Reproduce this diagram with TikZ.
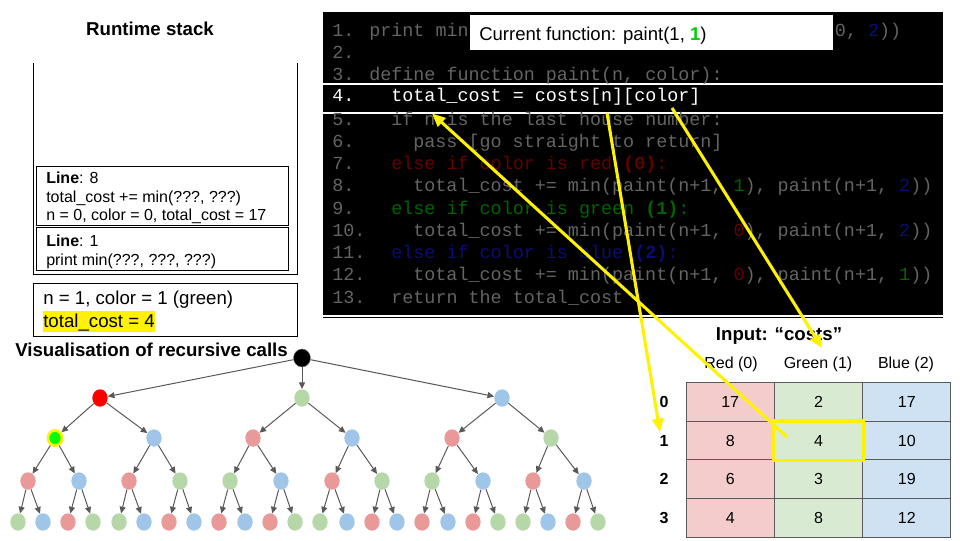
\documentclass[tikz,border=0pt]{standalone}
\usepackage{fontspec}
\setmainfont{Liberation Sans}
\setmonofont{Liberation Mono}
\usetikzlibrary{arrows.meta,shapes.geometric}

% palette
\definecolor{codegray}{HTML}{646464}
\definecolor{codered}{HTML}{640000}
\definecolor{codegreen}{HTML}{006400}
\definecolor{codeblue}{HTML}{0C0C78}
\definecolor{brightgreen}{HTML}{00D000}
\definecolor{cellred}{HTML}{F4CCCC}
\definecolor{cellgreen}{HTML}{D9EAD3}
\definecolor{cellblue}{HTML}{CFE2F3}
\definecolor{gridgray}{HTML}{5A5A5A}
\definecolor{nodered}{HTML}{EA9999}
\definecolor{nodegreen}{HTML}{B6D7A8}
\definecolor{nodeblue}{HTML}{9FC5E8}
\definecolor{edgegray}{HTML}{595959}

\newcommand\cdfont{\fontsize{13.8}{16}\selectfont\ttfamily\frenchspacing}
\newcommand\R[1]{\textcolor{codered}{#1}}
\newcommand\G[1]{\textcolor{codegreen}{#1}}
\newcommand\B[1]{\textcolor{codeblue}{#1}}

\tikzset{
  codetxt/.style={anchor=base west, inner sep=0pt, font=\cdfont, text=codegray},
  stacktxt/.style={anchor=base west, inner sep=0pt, font=\fontsize{12}{14}\selectfont},
  heading/.style={inner sep=0pt, font=\fontsize{14}{16}\selectfont\bfseries},
  frame/.style={draw=black, line width=0.6pt},
  cell/.style={draw=gridgray, line width=0.75pt, minimum width=66.2pt, minimum height=28.9pt,
               inner sep=0pt, font=\fontsize{12}{14}\selectfont},
  collabel/.style={inner sep=0pt, font=\fontsize{12}{14}\selectfont},
  rowlabel/.style={inner sep=0pt, font=\fontsize{12}{14}\selectfont\bfseries},
  callnode/.style={ellipse, minimum width=11.5pt, minimum height=13pt, inner sep=0pt},
  rn/.style={callnode, fill=nodered},
  gn/.style={callnode, fill=nodegreen},
  bn/.style={callnode, fill=nodeblue},
  calledge/.style={draw=edgegray, line width=0.75pt, -{Triangle[length=5pt,width=4.5pt]}},
  pointer/.style={draw=yellow, line width=2.3pt, -{Triangle[length=10pt,width=8.5pt]}},
}

\begin{document}
\begin{tikzpicture}[x=0.75pt,y=-0.75pt]
\useasboundingbox (0,0) rectangle (960,540);

% ---------- runtime stack ----------
\node[heading] (stacktitle) at (150,29) {Runtime stack};
\draw[line width=0.75pt] (33.5,63) -- (33.5,274.5) -- (297.5,274.5) -- (297.5,63);
\draw[frame] (36,166) rectangle (288,225);
\draw[frame] (36,227) rectangle (288,270);
\node[stacktxt] (f1a) at (46,183) {\textbf{Line}: 8};
\node[stacktxt] (f1b) at (46,202) {total\_cost += min(???, ???)};
\node[stacktxt] (f1c) at (46,220.5) {n = 0, color = 0, total\_cost = 17};
\node[stacktxt] (f2a) at (46,246) {\textbf{Line}: 1};
\node[stacktxt] (f2b) at (46,265) {print min(???, ???, ???)};

\draw[frame] (33.5,283.5) rectangle (297.5,336);
\fill[yellow] (43,311) rectangle (155,332);
\node[stacktxt, font=\fontsize{14}{16}\selectfont] (cur1) at (43,304) {n = 1, color = 1 (green)};
\node[stacktxt, font=\fontsize{14}{16}\selectfont] (cur2) at (43,327.5) {total\_cost = 4};

% ---------- code window ----------
\fill[black] (323,12) rectangle (943,315);
\draw[black, line width=0.8pt] (323,317.5) -- (943,317.5);
\fill[black] (323,84) rectangle (943,113);
\draw[white, line width=1.2pt] (323,84) -- (943,84);
\draw[white, line width=1.2pt] (323,113) -- (943,113);

\foreach \n/\yy in {1/36,2/58.25,3/80.5,5/125,6/147.25,7/169.5,8/191.75,9/214,10/236.25,11/258.5,12/280.75,13/303}
  \node[codetxt] (ln\n) at (332,\yy) {\n.};
\node[codetxt, text=white] (ln4) at (332,101) {4.};

% line 1 is partly covered by the current-function label
\node[codetxt] (c1a) at (369,36) {print min};
\node[codetxt] (c1b) at (834.7,36) {0, \B{2}))};
\node[codetxt] (c3) at (369,80.5) {define function paint(n, color):};
\node[codetxt, text=white] (c4) at (391.1,101) {total\_cost = costs[n][color]};
\node[codetxt] (c5) at (391.1,125) {if n is the last house number:};
\node[codetxt] (c6) at (413.1,147.25) {pass [go straight to return]};
\node[codetxt, text=codered] (c7) at (391.1,169.5) {else if color is red \textbf{(0)}:};
\node[codetxt] (c8) at (413.1,191.75) {total\_cost += min(paint(n+1, \G{1}), paint(n+1, \B{2}))};
\node[codetxt, text=codegreen] (c9) at (391.1,214) {else if color is green \textbf{(1)}:};
\node[codetxt] (c10) at (413.1,236.25) {total\_cost += min(paint(n+1, \R{0}), paint(n+1, \B{2}))};
\node[codetxt, text=codeblue] (c11) at (391.1,258.5) {else if color is blue \textbf{(2)}:};
\node[codetxt] (c12) at (413.1,280.75) {total\_cost += min(paint(n+1, \R{0}), paint(n+1, \G{1}))};
\node[codetxt] (c13) at (391.1,303) {return the total\_cost};

\fill[white] (470,15) rectangle (833,50);
\node[anchor=base west, inner sep=0pt, font=\fontsize{13.9}{16}\selectfont] (curfn) at (479,40.5)
  {Current function: paint(1, \textcolor{brightgreen}{\textbf{1}})};

% ---------- input table ----------
\node[heading] (tabletitle) at (779,336) {Input: \textquotedblleft costs\textquotedblright};
\node[collabel] (hr) at (731,364) {Red (0)};
\node[collabel] (hg) at (818,364) {Green (1)};
\node[collabel] (hb) at (906,364) {Blue (2)};
\foreach \r/\yy in {0/402.25,1/440.75,2/479.25,3/517.75}
  \node[rowlabel] (row\r) at (664,\yy) {\r};

\foreach \r/\yy/\a/\b/\c in {0/402.25/17/2/17, 1/440.75/8/4/10, 2/479.25/6/3/19, 3/517.75/4/8/12}{
  \node[cell, fill=cellred]   (t\r0) at (730.2,\yy) {\a};
  \node[cell, fill=cellgreen] (t\r1) at (818.5,\yy) {\b};
  \node[cell, fill=cellblue]  (t\r2) at (906.8,\yy) {\c};
}
\draw[yellow, line width=2.3pt] (t11.north west) rectangle (t11.south east);

% ---------- recursion tree ----------
\node[heading, anchor=west] (treetitle) at (15,350) {Visualisation of recursive calls};
\node[callnode, fill=black, draw=gray, line width=0.4pt, minimum width=12.75pt, minimum height=13.5pt] (root) at (302,358) {};

\node[callnode, fill=red] (a) at (100,398) {};
\node[gn] (b) at (302,398) {};
\node[bn] (c) at (502,398) {};

\node[callnode, fill=green, draw=yellow, line width=2pt, minimum width=10.5pt, minimum height=11.5pt] (aa) at (55,438) {};
\node[bn] (ab) at (154,438) {};
\node[rn] (ba) at (253,438) {};
\node[bn] (bb) at (352,438) {};
\node[rn] (ca) at (452,438) {};
\node[gn] (cb) at (551,438) {};

\node[rn] (aaa) at (28,481) {};  \node[bn] (aab) at (79,481) {};
\node[rn] (aba) at (129,481) {}; \node[gn] (abb) at (180,481) {};
\node[gn] (baa) at (230,481) {}; \node[bn] (bab) at (281,481) {};
\node[rn] (bba) at (332,481) {}; \node[gn] (bbb) at (382,481) {};
\node[gn] (caa) at (432,481) {}; \node[bn] (cab) at (483,481) {};
\node[rn] (cba) at (533,481) {}; \node[bn] (cbb) at (584,481) {};

\foreach \nm/\st/\xx in {aaaa/gn/18, aaab/bn/43, aaba/rn/68, aabb/gn/93,
    abaa/gn/119, abab/bn/144, abba/rn/169, abbb/bn/194,
    baaa/rn/219, baab/bn/245, baba/rn/270, babb/gn/295,
    bbaa/gn/320, bbab/bn/347, bbba/rn/372, bbbb/bn/397,
    caaa/rn/422, caab/bn/448, caba/rn/473, cabb/gn/498,
    cbaa/gn/523, cbab/bn/548, cbba/rn/573, cbbb/gn/598}
  \node[\st] (\nm) at (\xx,522) {};

\foreach \c in {a,b,c}
  \draw[calledge] (root) -- (\c);
\foreach \p in {a,b,c,aa,ab,ba,bb,ca,cb,aaa,aab,aba,abb,baa,bab,bba,bbb,caa,cab,cba,cbb}{
  \draw[calledge] (\p) -- (\p a);
  \draw[calledge] (\p) -- (\p b);
}

% ---------- pointers from the code to the table ----------
\coordinate (cellsrc) at (787,437);
\coordinate (totaltip) at (432,113.5);
\coordinate (nsrc) at (607,113);
\coordinate (rowtip) at (660,432);
\coordinate (colorsrc) at (672,108);
\coordinate (coltip) at (822,348);
\draw[pointer] (cellsrc) -- (totaltip);
\draw[pointer] (nsrc) -- (rowtip);
\draw[pointer] (colorsrc) -- (coltip);
\end{tikzpicture}
\end{document}
